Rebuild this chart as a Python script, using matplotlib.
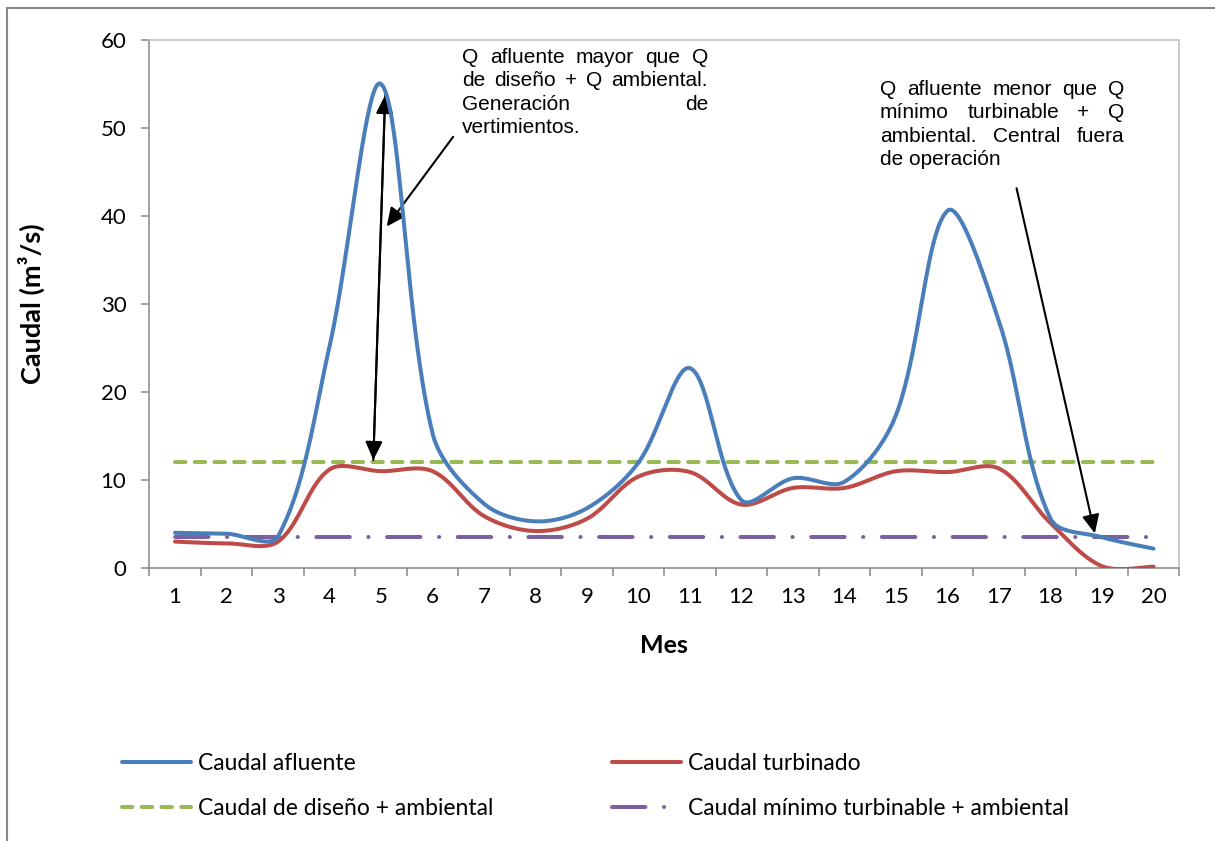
import numpy as np
import matplotlib
matplotlib.use("Agg")
import matplotlib.pyplot as plt
from matplotlib.patches import Rectangle

# data
meses = list(range(1, 21))
caudal_afluente = [4.0, 3.9, 3.6, 25.2, 55.0, 15.3, 7.3, 5.3, 6.8, 12.0,
                   22.7, 7.7, 10.2, 9.8, 17.4, 40.6, 28.0, 5.6, 3.5, 2.2]
caudal_turbinado = [3.0, 2.8, 3.0, 11.2, 11.0, 11.0, 5.9, 4.2, 5.6, 10.4,
                    10.9, 7.2, 9.1, 9.1, 11.0, 10.9, 11.3, 5.1, 0.2, 0.15]
q_diseno_amb = 12.0
q_min_amb = 3.5

nota_1 = ["Q afluente mayor que Q", "de diseño + Q ambiental.",
          "Generación de", "vertimientos."]
nota_2 = ["Q afluente menor que Q", "mínimo turbinable + Q",
          "ambiental. Central fuera", "de operación"]

AZUL = "#4A7EBB"
ROJO = "#BE4B48"
VERDE = "#98B954"
MORADO = "#7D60A0"
FONT = "Lato"
ARIAL = "Liberation Sans"

W, H = 1215, 841
PX_X, PX_Y = 51.5, 8.8   # pixels per category / per unit of caudal


def smooth(x, y, n=40):
    # Excel-like smoothed line: bezier, tangents weighted by segment lengths
    p = np.column_stack([np.asarray(x, float) * PX_X,
                         np.asarray(y, float) * PX_Y])
    m = len(p)
    c_in = np.zeros_like(p)
    c_out = np.zeros_like(p)
    for i in range(m):
        a = p[max(i - 1, 0)]
        b = p[min(i + 1, m - 1)]
        tang = (b - a) / 6.0
        if 0 < i < m - 1:
            d_in = np.hypot(*(p[i] - a))
            d_out = np.hypot(*(b - p[i]))
            s_in = 2 * d_in / (d_in + d_out)
            s_out = 2 * d_out / (d_in + d_out)
        else:
            s_in = s_out = 1.0
        c_in[i] = p[i] - tang * s_in
        c_out[i] = p[i] + tang * s_out
    t = np.linspace(0, 1, n)[:, None]
    out = []
    for i in range(m - 1):
        p1, p2 = p[i], p[i + 1]
        c1, c2 = c_out[i], c_in[i + 1]
        seg = ((1 - t) ** 3 * p1 + 3 * (1 - t) ** 2 * t * c1
               + 3 * (1 - t) * t ** 2 * c2 + t ** 3 * p2)
        out.append(seg if i == 0 else seg[1:])
    out = np.vstack(out)
    return out[:, 0] / PX_X, out[:, 1] / PX_Y


fig = plt.figure(figsize=(12.15, 8.41), dpi=100)
ax = fig.add_axes([149.3 / W, 1 - 568 / H, 1030 / W, 528 / H])

lw = 2.9
xa, ya = smooth(meses, caudal_afluente)
xt, yt = smooth(meses, caudal_turbinado)
l1, = ax.plot(xa, ya, color=AZUL, lw=lw, solid_capstyle="round",
              label="Caudal afluente", zorder=4)
l2, = ax.plot(xt, yt, color=ROJO, lw=lw, solid_capstyle="round",
              label="Caudal turbinado", zorder=3)
l3, = ax.plot([meses[0], meses[-1]], [q_diseno_amb] * 2, color=VERDE, lw=lw,
              linestyle=(0, (2.6, 2.3)), dash_capstyle="round",
              label="Caudal de diseño + ambiental", zorder=2)
l4, = ax.plot([meses[0], meses[-1]], [q_min_amb] * 2, color=MORADO, lw=lw,
              linestyle=(0, (8.3, 4.6, 0.05, 4.6)), dash_capstyle="round",
              label="Caudal mínimo turbinable + ambiental", zorder=2)

ax.set_xlim(0.5, 20.5)
ax.set_ylim(0, 60)
ax.set_yticks(range(0, 61, 10))
ax.set_xticks(np.arange(0.5, 20.6, 1))
ax.set_xticklabels([])
ax.set_xticks(meses, minor=True)
ax.set_xticklabels([str(m) for m in meses], minor=True)
ax.tick_params(axis="x", which="major", length=5.5, width=1.1, color="#868686")
ax.tick_params(axis="x", which="minor", length=0, pad=14)
ax.tick_params(axis="y", length=5.5, width=1.1, color="#868686", pad=11)
for lab in ax.get_xticklabels(minor=True) + ax.get_yticklabels():
    lab.set_fontfamily(FONT)
    lab.set_fontsize(16)

for s in ["left", "bottom"]:
    ax.spines[s].set_color("#868686")
    ax.spines[s].set_linewidth(1.1)
for s in ["top", "right"]:
    ax.spines[s].set_color("#BFBFBF")
    ax.spines[s].set_linewidth(1.1)

ax.set_ylabel("Caudal (m³/s)", fontfamily=FONT, fontsize=19.5,
              fontweight="bold", labelpad=40)
ax.set_xlabel("Mes", fontfamily=FONT, fontsize=18, fontweight="bold",
              labelpad=19)

# arrows
flecha = dict(arrowstyle="-|>,head_length=0.75,head_width=0.35",
              color="black", lw=1.5, mutation_scale=15, shrinkA=0, shrinkB=0)
ax.annotate("", xy=(5.08, 53.75), xytext=(4.85, 12.27), arrowprops=flecha)
ax.annotate("", xy=(4.85, 12.27), xytext=(5.08, 53.75), arrowprops=flecha)
ax.annotate("", xy=(5.11, 38.8), xytext=(6.40, 49.0), arrowprops=flecha)
ax.annotate("", xy=(18.86, 3.94), xytext=(17.34, 43.15), arrowprops=flecha)


def justified(lines, x0, x1, y0, lh, size=15):
    # justified paragraph, positions in pixels of the figure
    fig.canvas.draw()
    r = fig.canvas.get_renderer()
    for i, line in enumerate(lines):
        y = 1 - (y0 + i * lh) / H
        words = line.split()
        if i == len(lines) - 1 or len(words) == 1:
            fig.text(x0 / W, y, line, fontfamily=ARIAL, fontsize=size,
                     va="baseline", ha="left")
            continue
        txts = [fig.text(0, y, w, fontfamily=ARIAL, fontsize=size,
                         va="baseline", ha="left") for w in words]
        widths = [t.get_window_extent(r).width for t in txts]
        gap = (x1 - x0 - sum(widths)) / (len(words) - 1)
        xp = x0
        for t, w in zip(txts, widths):
            t.set_x(xp / W)
            xp += w + gap


justified(nota_1, 462, 708, 63, 23.4)
justified(nota_2, 880, 1124, 95, 23.4)

# legend in two columns
kw = dict(frameon=False, prop={"family": FONT, "size": 16.5}, handlelength=3.0,
          handletextpad=0.3, labelspacing=1.05, borderpad=0, borderaxespad=0,
          loc="center left")
fig.legend([l1, l3], [l1.get_label(), l3.get_label()],
           bbox_to_anchor=(122 / W, 1 - 786 / H), **kw)
fig.legend([l2, l4], [l2.get_label(), l4.get_label()],
           bbox_to_anchor=(612 / W, 1 - 786 / H), **kw)

# outer chart border
fig.patches.append(Rectangle((7 / W, -0.1), 1.2, 1 - 8 / H + 0.1,
                             transform=fig.transFigure, fill=False,
                             edgecolor="#888888", lw=1.5))

fig.savefig("out.png", dpi=100)
